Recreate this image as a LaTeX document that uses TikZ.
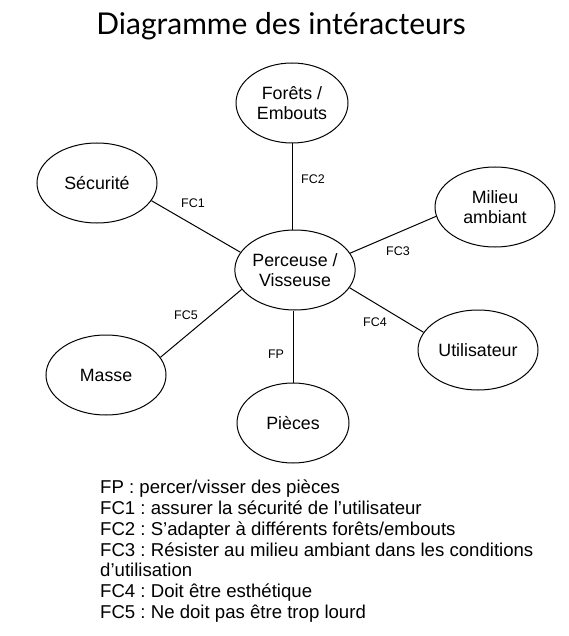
\documentclass[tikz,border=0pt]{standalone}
\usepackage{fontspec}
\setmainfont{Liberation Sans}
\newfontfamily\titlefont{Lato}
\usetikzlibrary{shapes.geometric}
\frenchspacing

\begin{document}
\begin{tikzpicture}[
  x=1pt, y=-1pt,
  font=\fontsize{17.8}{20}\selectfont,
  acteur/.style={draw, ellipse, line width=1pt, inner sep=0pt, align=center, minimum width=120pt, minimum height=80pt},
  lien/.style={line width=1pt},
  lbl/.style={font=\fontsize{12.5}{14}\selectfont, inner sep=0pt}
]
\useasboundingbox (0,0) rectangle (569,636);
\node[font=\titlefont\fontsize{30}{34}\selectfont] (titre) at (281,26) {Diagramme des intéracteurs};
\node[acteur] (pv) at (295,270) {Perceuse /\\Visseuse};
\node[acteur, minimum width=112pt] (foret) at (292,103) {Forêts /\\Embouts};
\node[acteur] (secu) at (97,183) {Sécurité};
\node[acteur] (milieu) at (495,207) {Milieu\\ambiant};
\node[acteur] (masse) at (106,375) {Masse};
\node[acteur] (util) at (478,350) {Utilisateur};
\node[acteur, minimum width=112pt] (piece) at (293,423) {Pièces};
\draw[lien] (secu.-18) -- (pv.162);
\draw[lien] (foret.south) -- (foret.south |- pv.north);
\draw[lien] (pv.17) -- (milieu.-171);
\draw[lien] (pv.-18) -- (util.162);
\draw[lien] (pv.-160) -- (masse.18);
\draw[lien] (piece.north |- pv.south) -- (piece.north);
\node[lbl] (l1) at (193,203) {FC1};
\node[lbl] (l2) at (313,179) {FC2};
\node[lbl] (l3) at (398,251) {FC3};
\node[lbl] (l4) at (375,322) {FC4};
\node[lbl] (l5) at (186,315) {FC5};
\node[lbl] (l0) at (276,354) {FP};
\node[anchor=north west, align=left, inner sep=0pt, font=\fontsize{18.6}{20.7}\selectfont] (legende) at (100,480) {FP : percer/visser des pièces\\
FC1 : assurer la sécurité de l’utilisateur\\
FC2 : S’adapter à différents forêts/embouts\\
FC3 : Résister au milieu ambiant dans les conditions\\
d’utilisation\\
FC4 : Doit être esthétique\\
FC5 : Ne doit pas être trop lourd};
\end{tikzpicture}
\end{document}
